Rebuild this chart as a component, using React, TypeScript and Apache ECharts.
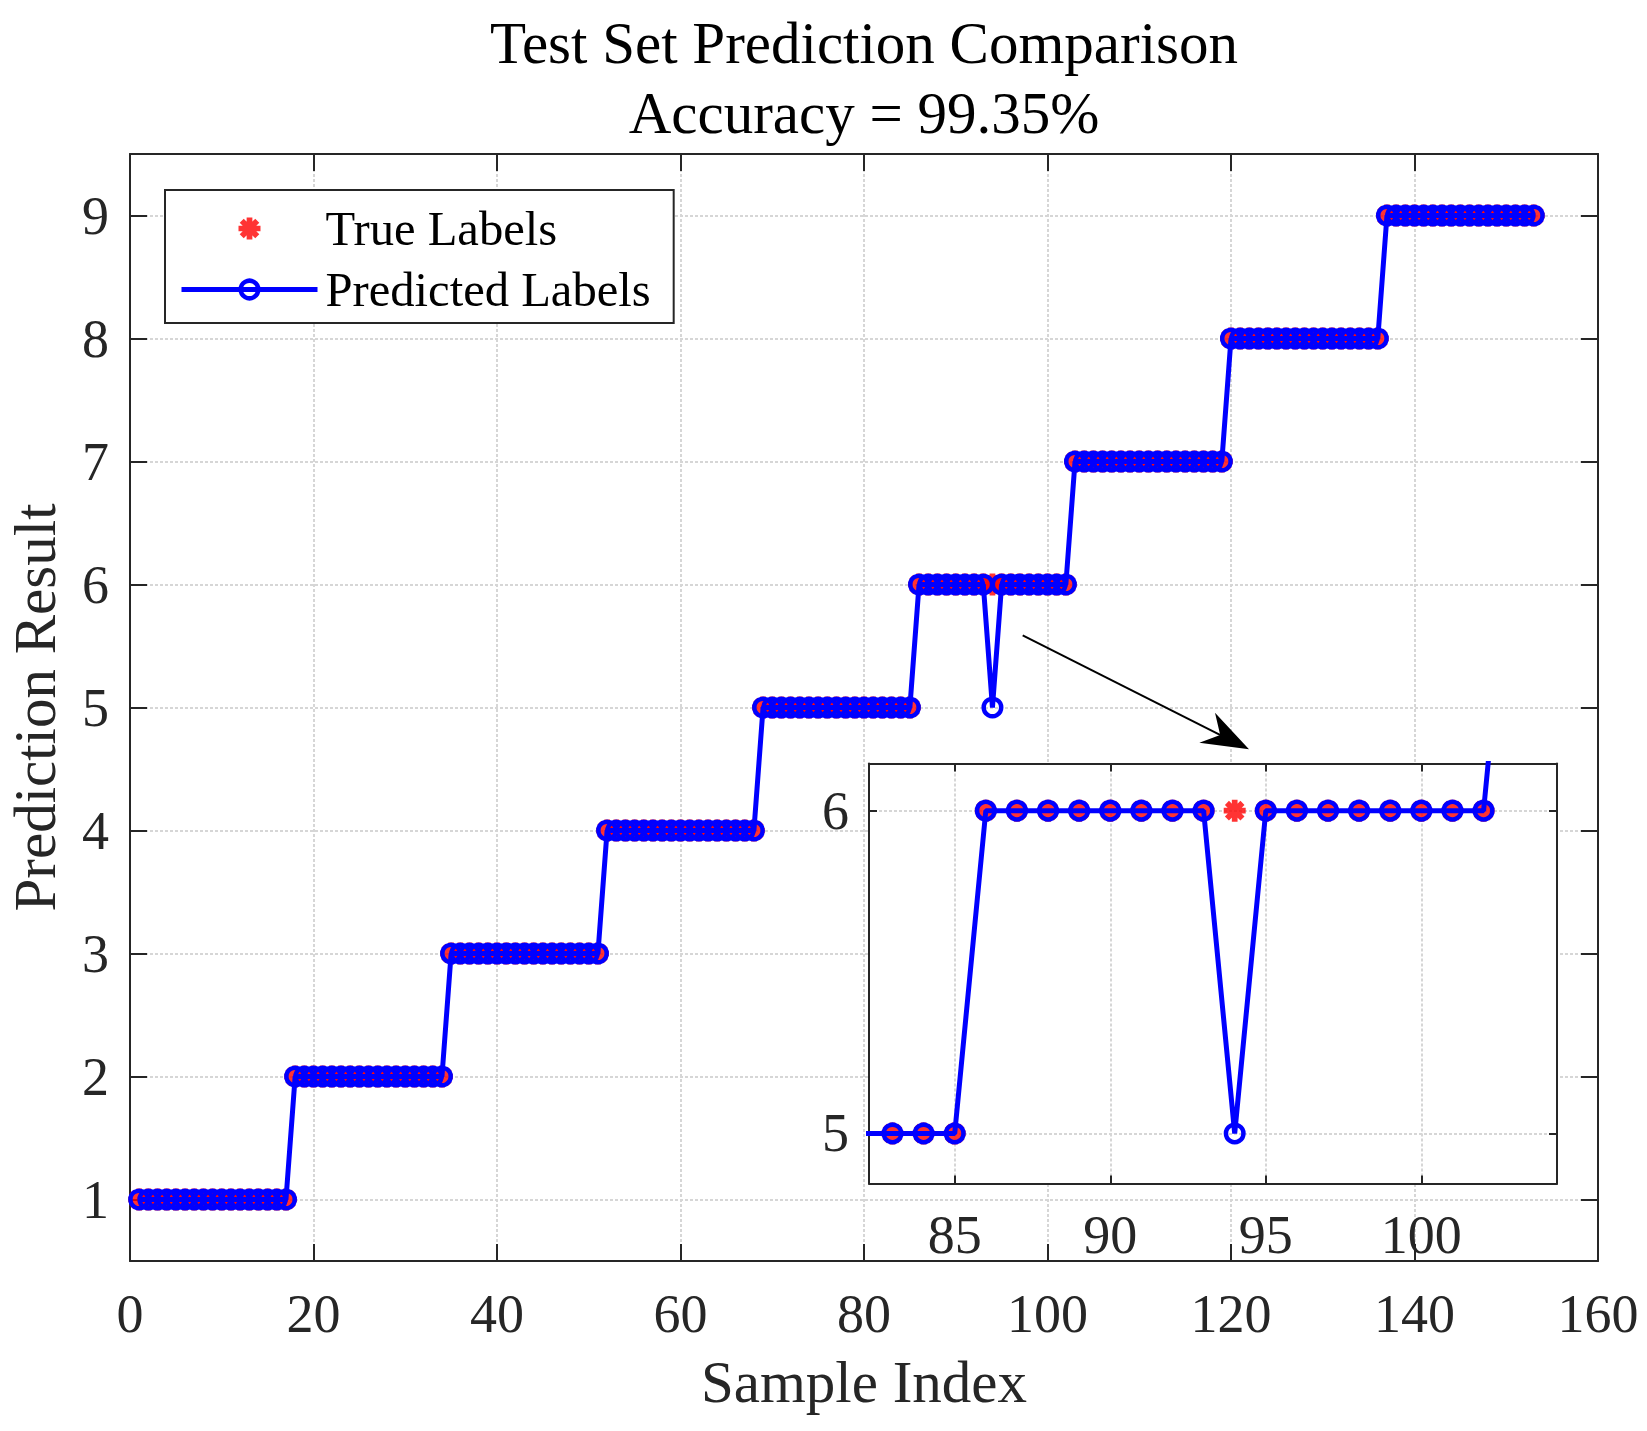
import React, { useEffect, useRef } from "react";
import * as echarts from "echarts";

// true class of each test sample (sample index = position + 1)
const trueLabels = [
  1, 1, 1, 1, 1, 1, 1, 1, 1, 1, 1, 1, 1, 1, 1, 1, 1,
  2, 2, 2, 2, 2, 2, 2, 2, 2, 2, 2, 2, 2, 2, 2, 2, 2,
  3, 3, 3, 3, 3, 3, 3, 3, 3, 3, 3, 3, 3, 3, 3, 3, 3,
  4, 4, 4, 4, 4, 4, 4, 4, 4, 4, 4, 4, 4, 4, 4, 4, 4,
  5, 5, 5, 5, 5, 5, 5, 5, 5, 5, 5, 5, 5, 5, 5, 5, 5,
  6, 6, 6, 6, 6, 6, 6, 6, 6, 6, 6, 6, 6, 6, 6, 6, 6,
  7, 7, 7, 7, 7, 7, 7, 7, 7, 7, 7, 7, 7, 7, 7, 7, 7,
  8, 8, 8, 8, 8, 8, 8, 8, 8, 8, 8, 8, 8, 8, 8, 8, 8,
  9, 9, 9, 9, 9, 9, 9, 9, 9, 9, 9, 9, 9, 9, 9, 9, 9,
];

// predicted class (one miss at sample 94)
const predictedLabels = [
  1, 1, 1, 1, 1, 1, 1, 1, 1, 1, 1, 1, 1, 1, 1, 1, 1,
  2, 2, 2, 2, 2, 2, 2, 2, 2, 2, 2, 2, 2, 2, 2, 2, 2,
  3, 3, 3, 3, 3, 3, 3, 3, 3, 3, 3, 3, 3, 3, 3, 3, 3,
  4, 4, 4, 4, 4, 4, 4, 4, 4, 4, 4, 4, 4, 4, 4, 4, 4,
  5, 5, 5, 5, 5, 5, 5, 5, 5, 5, 5, 5, 5, 5, 5, 5, 5,
  6, 6, 6, 6, 6, 6, 6, 6, 5, 6, 6, 6, 6, 6, 6, 6, 6,
  7, 7, 7, 7, 7, 7, 7, 7, 7, 7, 7, 7, 7, 7, 7, 7, 7,
  8, 8, 8, 8, 8, 8, 8, 8, 8, 8, 8, 8, 8, 8, 8, 8, 8,
  9, 9, 9, 9, 9, 9, 9, 9, 9, 9, 9, 9, 9, 9, 9, 9, 9,
];

const xRange = [0, 160];
const xStep = 20;
const yRange = [0.5, 9.5];
const yTicks = [1, 2, 3, 4, 5, 6, 7, 8, 9];

// zoomed inset
const insetXRange = [82.245, 104.36];
const insetYRange = [4.845, 6.146];
const insetXTicks = [85, 90, 95, 100];
const insetYTicks = [5, 6];

const titleLines = ["Test Set Prediction Comparison", "Accuracy = 99.35%"];

const FONT = "'Liberation Serif', 'Times New Roman', serif";
const AXIS = "#262626";
const GRID = "#d6d6d6";
const BLUE = "#0000ff";
const RED = "#ff0000";
// matlab style '*' marker: four thick bars
const STAR =
  "path://M0,7.4L20,7.4L20,12.6L0,12.6ZM12.6,0L12.6,20L7.4,20L7.4,0ZM4.768,1.092L18.908,15.232L15.232,18.908L1.092,4.768ZM18.908,4.768L4.768,18.908L1.092,15.232L15.232,1.092Z";

const App: React.FC = () => {
  const chartRef = useRef<HTMLDivElement>(null);

  useEffect(() => {
    const chart = echarts.init(chartRef.current, null, { renderer: "svg" });

    const truePts = trueLabels.map((v, i) => [i + 1, v]);
    const predPts = predictedLabels.map((v, i) => [i + 1, v]);

    const tickLabel = { fontFamily: FONT, fontSize: 54, color: AXIS, lineHeight: 54 };
    const splitLine = { show: true, lineStyle: { color: GRID, width: 2, type: [3, 2] } };
    const axisLine = { show: true, onZero: false, lineStyle: { color: AXIS, width: 2 } };
    const circleStyle = { color: "rgba(0,0,0,0)", borderColor: BLUE, borderWidth: 4.5 };
    const lineStyle = { color: BLUE, width: 5 };

    const starSeries = (xi: number, z: number) => ({
      name: "True Labels",
      type: "scatter",
      xAxisIndex: xi,
      yAxisIndex: xi,
      data: truePts,
      symbol: STAR,
      symbolSize: 22,
      itemStyle: { color: RED },
      z,
      silent: true,
    });
    const predSeries = (xi: number, z: number) => ({
      name: "Predicted Labels",
      type: "line",
      xAxisIndex: xi,
      yAxisIndex: xi,
      data: predPts,
      symbol: "circle",
      symbolSize: 17.5,
      showAllSymbol: true,
      lineStyle,
      itemStyle: circleStyle,
      z,
      silent: true,
    });

    chart.setOption({
      animation: false,
      title: {
        text: titleLines.join("\n"),
        left: 864,
        top: 8,
        padding: 0,
        textAlign: "center",
        textStyle: { fontFamily: FONT, fontSize: 59, fontWeight: "normal", color: "#000", lineHeight: 70 },
      },
      legend: {
        data: [
          { name: "True Labels", itemStyle: { color: RED } },
          { name: "Predicted Labels", itemStyle: circleStyle, lineStyle },
        ],
        orient: "vertical",
        left: 165,
        top: 190,
        itemWidth: 136,
        itemHeight: 22,
        itemGap: 12,
        padding: [14, 23, 9, 14],
        backgroundColor: "#fff",
        borderColor: AXIS,
        borderWidth: 2,
        selectedMode: false,
        textStyle: { fontFamily: FONT, fontSize: 48.6, color: "#000", lineHeight: 48, padding: [0, 0, 0, 3] },
        z: 10,
      },
      grid: [
        { left: 130, top: 154, width: 1468, height: 1107, containLabel: false, outerBoundsMode: "none" },
        {
          left: 869, top: 763.5, width: 688, height: 420, containLabel: false, outerBoundsMode: "none",
          show: true, backgroundColor: "#fff", borderWidth: 0, z: 3,
        },
      ],
      xAxis: [
        {
          gridIndex: 0, type: "value", position: "bottom",
          min: xRange[0], max: xRange[1], interval: xStep,
          axisLine, axisTick: { inside: true, length: 17, lineStyle: { color: AXIS, width: 2 } },
          axisLabel: { ...tickLabel, margin: 26 },
          splitLine,
          name: "Sample Index", nameLocation: "middle", nameGap: 91,
          nameTextStyle: { fontFamily: FONT, fontSize: 59, color: AXIS, lineHeight: 59 },
        },
        {
          gridIndex: 0, type: "value", position: "top",
          min: xRange[0], max: xRange[1], interval: xStep,
          axisLine, axisTick: { inside: true, length: 17, lineStyle: { color: AXIS, width: 2 } },
          axisLabel: { show: false }, splitLine: { show: false },
        },
        {
          gridIndex: 1, type: "value", position: "bottom", z: 4,
          min: insetXRange[0], max: insetXRange[1],
          axisLine,
          axisTick: { inside: true, length: 8, customValues: insetXTicks, lineStyle: { color: AXIS, width: 2 } },
          axisLabel: { ...tickLabel, margin: 24, customValues: insetXTicks },
          splitLine,
        },
        {
          gridIndex: 1, type: "value", position: "top", z: 4,
          min: insetXRange[0], max: insetXRange[1],
          axisLine,
          axisTick: { inside: true, length: 8, customValues: insetXTicks, lineStyle: { color: AXIS, width: 2 } },
          axisLabel: { show: false }, splitLine: { show: false },
        },
      ],
      yAxis: [
        {
          gridIndex: 0, type: "value", position: "left",
          min: yRange[0], max: yRange[1],
          axisLine,
          axisTick: { inside: true, length: 17, customValues: yTicks, lineStyle: { color: AXIS, width: 2 } },
          axisLabel: { ...tickLabel, margin: 21, customValues: yTicks },
          splitLine,
          name: "Prediction Result", nameLocation: "middle", nameGap: 66,
          nameTextStyle: { fontFamily: FONT, fontSize: 59, color: AXIS, lineHeight: 59 },
        },
        {
          gridIndex: 0, type: "value", position: "right",
          min: yRange[0], max: yRange[1],
          axisLine,
          axisTick: { inside: true, length: 17, customValues: yTicks, lineStyle: { color: AXIS, width: 2 } },
          axisLabel: { show: false }, splitLine: { show: false },
        },
        {
          gridIndex: 1, type: "value", position: "left", z: 4,
          min: insetYRange[0], max: insetYRange[1],
          axisLine,
          axisTick: { inside: true, length: 8, customValues: insetYTicks, lineStyle: { color: AXIS, width: 2 } },
          axisLabel: { ...tickLabel, margin: 20, customValues: insetYTicks },
          splitLine,
        },
        {
          gridIndex: 1, type: "value", position: "right", z: 4,
          min: insetYRange[0], max: insetYRange[1],
          axisLine,
          axisTick: { inside: true, length: 8, customValues: insetYTicks, lineStyle: { color: AXIS, width: 2 } },
          axisLabel: { show: false }, splitLine: { show: false },
        },
      ],
      graphic: [
        {
          type: "line",
          shape: { x1: 1022.7, y1: 635.3, x2: 1221, y2: 735.3 },
          style: { stroke: "#000", lineWidth: 2 },
          z: 20,
        },
        {
          type: "polygon",
          shape: { points: [[1249, 749.3], [1215, 712.7], [1220.2, 735], [1199.3, 742.7]] },
          style: { fill: "#000" },
          z: 20,
        },
      ],
      series: [
        starSeries(0, 2),
        predSeries(0, 3),
        starSeries(2, 6),
        predSeries(2, 7),
      ],
    });

    return () => {
      chart.dispose();
    };
  }, []);

  return (
    <div
      ref={chartRef}
      style={{ position: "absolute", left: 0, top: 0, width: 1647, height: 1431, background: "#fff" }}
    ></div>
  );
};

export default App;
